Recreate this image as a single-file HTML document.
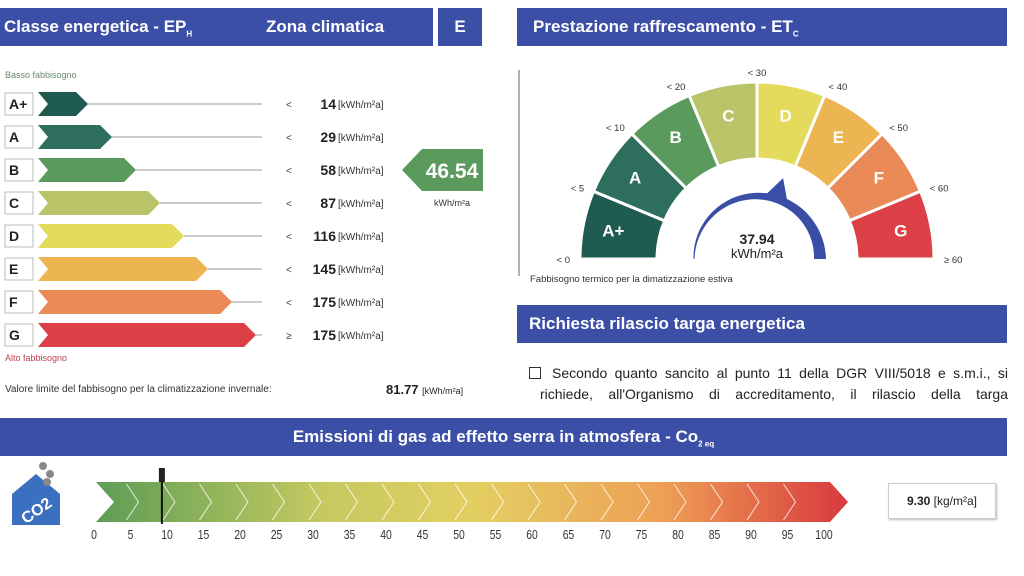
<!DOCTYPE html>
<html><head><meta charset="utf-8"><style>
body{margin:0;width:1024px;height:576px;background:#fff;overflow:hidden;font-family:"Liberation Sans",sans-serif;position:relative}
.hdr{position:absolute;background:#3b4fa6;color:#fff;font-weight:bold;font-size:17px;box-sizing:border-box;line-height:38px;white-space:nowrap}
.abs{position:absolute;white-space:nowrap}
</style></head><body>
<div class="hdr" style="left:0;top:8px;width:433px;height:38px;padding-left:4px">Classe energetica - EP<sub style="font-size:8px">H</sub><span style="position:absolute;left:266px">Zona climatica</span></div>
<div class="hdr" style="left:438px;top:8px;width:44px;height:38px;text-align:center">E</div>
<div class="hdr" style="left:517px;top:8px;width:490px;height:38px;padding-left:16px">Prestazione raffrescamento - ET<sub style="font-size:8px">C</sub></div>
<div class="hdr" style="left:517px;top:305px;width:490px;height:38px;padding-left:12px">Richiesta rilascio targa energetica</div>
<div class="hdr" style="left:0;top:418px;width:1007px;height:38px;text-align:center">Emissioni di gas ad effetto serra in atmosfera - Co<sub style="font-size:8px">2 eq</sub></div>

<div class="abs" style="left:5px;top:70px;font-size:9px;color:#6a8a70">Basso fabbisogno</div>
<div class="abs" style="left:5px;top:353px;font-size:9px;color:#c04050">Alto fabbisogno</div>
<div class="abs" style="left:5px;top:384px;font-size:10px;color:#333">Valore limite del fabbisogno per la climatizzazione invernale:</div>
<div class="abs" style="left:386px;top:382px;font-size:13px;font-weight:bold;color:#222">81.77 <span style="font-size:9px;font-weight:normal">[kWh/m²a]</span></div>
<div class="abs" style="left:530px;top:274px;font-size:9.5px;color:#333">Fabbisogno termico per la dimatizzazione estiva</div>
<span style="position:absolute;left:529px;top:367px;width:10px;height:10px;border:1px solid #333"></span>
<div class="abs" style="left:540px;top:363px;width:468px;font-size:14px;color:#222;line-height:21px;white-space:normal;text-align:justify;text-align-last:justify;text-indent:12px">Secondo quanto sancito al punto 11 della DGR VIII/5018 e s.m.i., si richiede, all'Organismo di accreditamento, il rilascio della targa</div>
<div class="abs" style="left:888px;top:483px;width:106px;height:34px;border:1px solid #ccc;box-shadow:1px 1px 2px #bbb;font-size:12px;line-height:34px;text-align:center;color:#222"><b>9.30</b> [kg/m²a]</div>

<svg id="svg" width="1024" height="576" style="position:absolute;left:0;top:0"></svg>
<script>
const classes=["A+","A","B","C","D","E","F","G"];
const thresholds=[14,29,58,87,116,145,175,175];
const signs=["<","<","<","<","<","<","<","≥"];
const epValue=46.54;
const epClassIndex=2;
const gaugeClasses=["A+","A","B","C","D","E","F","G"];
const gaugeBounds=[0,5,10,20,30,40,50,60];
const gaugeBoundLabels=["< 0","< 5","< 10","< 20","< 30","< 40","< 50","< 60","≥ 60"];
const etValue=37.94;
const co2Ticks=[0,5,10,15,20,25,30,35,40,45,50,55,60,65,70,75,80,85,90,95,100];
const co2Value=9.30;

const NS="http://www.w3.org/2000/svg";
const svg=document.getElementById('svg');
function mk(t,a,p){const e=document.createElementNS(NS,t);for(const k in a)e.setAttribute(k,a[k]);(p||svg).appendChild(e);return e;}
const colors=["#1f5b50","#2d6f5c","#5b9a5d","#b8c467","#e4da5c","#edb552","#e98a57","#dc3f46"];

const rowY=i=>104+i*33;
const barEnd=i=>88+i*24;
classes.forEach((c,i)=>{
  const y=rowY(i),h=24,x0=38,x1=barEnd(i);
  const lb=mk('rect',{x:5,y:y-11,width:28,height:22,fill:'#fff',stroke:'#bbb'});
  
  const t=mk('text',{x:9,y:y+5,'font-size':14,'font-weight':'bold',fill:'#222'});t.textContent=c;
  
  mk('line',{x1:x1,y1:y,x2:262,y2:y,stroke:'#999','stroke-width':1});
  const p=mk('path',{d:`M${x0} ${y-h/2}L${x1-12} ${y-h/2}L${x1} ${y}L${x1-12} ${y+h/2}L${x0} ${y+h/2}L${x0+10} ${y}Z`,fill:colors[i]});
  
  const s=mk('text',{x:286,y:y+4,'font-size':10,fill:'#444'});s.textContent=signs[i];
  const v=mk('text',{x:336,y:y+5,'font-size':14,'font-weight':'bold','text-anchor':'end',fill:'#222'});v.textContent=thresholds[i];
  
  const u=mk('text',{x:338,y:y+4,'font-size':10,fill:'#333'});u.textContent='[kWh/m²a]';
});
{const y=rowY(epClassIndex);
 const p=mk('path',{d:`M402 ${y}L422 ${y-21}L483 ${y-21}L483 ${y+21}L422 ${y+21}Z`,fill:colors[epClassIndex]});
 
 const t=mk('text',{x:452,y:y+8,'font-size':21,'font-weight':'bold',fill:'#fff','text-anchor':'middle'});t.textContent=epValue.toFixed(2);
 const u=mk('text',{x:452,y:y+36,'font-size':9,fill:'#333','text-anchor':'middle'});u.textContent='kWh/m²a';}

mk('line',{x1:519,y1:70,x2:519,y2:276,stroke:'#999','stroke-width':1.5});
const cx=757,cy=259,R=177,r=100;
const segAng=i=>Math.PI-i*Math.PI/8;
const pt=(a,rad)=>[cx+rad*Math.cos(a),cy-rad*Math.sin(a)];
gaugeClasses.forEach((c,i)=>{
  const a0=segAng(i),a1=segAng(i+1);
  const [x0,y0]=pt(a0,R),[x1,y1]=pt(a1,R),[x2,y2]=pt(a1,r),[x3,y3]=pt(a0,r);
  const p=mk('path',{d:`M${x0} ${y0}A${R} ${R} 0 0 1 ${x1} ${y1}L${x2} ${y2}A${r} ${r} 0 0 0 ${x3} ${y3}Z`,fill:colors[i],stroke:'#fff','stroke-width':3});
  
  const [lx,ly]=pt((a0+a1)/2,(R+r)/2+8);
  const t=mk('text',{x:lx,y:ly+6,'font-size':17,'font-weight':'bold',fill:'#fff','text-anchor':'middle'});t.textContent=c;
});
gaugeBoundLabels.forEach((l,i)=>{
  const a=segAng(i);const [lx,ly]=pt(a,R+10);
  const t=mk('text',{x:lx,y:ly+4,'font-size':9.5,fill:'#333','text-anchor':Math.abs(Math.cos(a))<0.2?'middle':(Math.cos(a)<0?'end':'start')});t.textContent=l;
  
});
function valAng(v){
  for(let i=0;i<gaugeBounds.length-1;i++){if(v<gaugeBounds[i+1]){return segAng(i)-(v-gaugeBounds[i])/(gaugeBounds[i+1]-gaugeBounds[i])*Math.PI/8;}}
  return segAng(8)+0.05;
}
{const va=valAng(etValue),rn=63;
 const N=40;const outer=[],inner=[];
 for(let k=0;k<=N;k++){const a=Math.PI-k*Math.PI/N;const w=1+11*k/N;outer.push(pt(a,rn+w/2));inner.push(pt(a,rn-w/2));}
 const d='M'+outer.map(p=>p.join(' ')).join('L')+'L'+inner.reverse().map(p=>p.join(' ')).join('L')+'Z';
 const arc=mk('path',{d:d,fill:'#3a4ea6'});
 const [tx,ty]=pt(va,rn+22),[bx1,by1]=pt(va+0.2,rn),[bx2,by2]=pt(va-0.2,rn);
 const nd=mk('path',{d:`M${tx} ${ty}L${bx2} ${by2}L${bx1} ${by1}Z`,fill:'#3a4ea6'});
 const t=mk('text',{x:cx,y:244,'font-size':14,'font-weight':'bold',fill:'#222','text-anchor':'middle'});t.textContent=etValue.toFixed(2);
 
 const u=mk('text',{x:cx,y:258,'font-size':13,fill:'#222','text-anchor':'middle'});u.textContent='kWh/m²a';}

const cxs=v=>94+v*7.3;
const defs=mk('defs',{});
const g=mk('linearGradient',{id:'cg',x1:0,x2:1,y1:0,y2:0},defs);
[["0","#5c9d55"],["0.3","#c4c960"],["0.5","#e3cf62"],["0.75","#eea055"],["1","#d8393e"]].forEach(s=>mk('stop',{offset:s[0],'stop-color':s[1]},g));
const bar=mk('path',{d:`M96 482L830 482L848 502L830 522L96 522L114 502Z`,fill:'url(#cg)'});

co2Ticks.forEach((v,i)=>{
  if(i>0&&i<co2Ticks.length-1){const x=cxs(v)-4;mk('path',{d:`M${x} 484L${x+12} 502L${x} 520`,fill:'none',stroke:'#fff','stroke-width':1,opacity:0.8});}
  const t=mk('text',{x:cxs(v),y:539,'font-size':13,fill:'#333','text-anchor':'middle',transform:`translate(${cxs(v)} 0) scale(0.8 1) translate(${-cxs(v)} 0)`});t.textContent=v;
  
});
{const x=cxs(co2Value);
 const m=mk('line',{x1:x,y1:470,x2:x,y2:524,stroke:'#111','stroke-width':2});
 mk('rect',{x:x-3,y:468,width:6,height:14,fill:'#222'});}
const ic=mk('g',{});
mk('path',{d:'M12 494L36 474L60 494L60 525L12 525Z',fill:'#3b6fc0'},ic);
[[43,466,4],[50,474,4],[47,482,4]].forEach(c=>mk('circle',{cx:c[0],cy:c[1],r:c[2],fill:'#888'},ic));
const ct=mk('text',{x:36,y:516,'font-size':16,'font-weight':'bold',fill:'#fff','text-anchor':'middle',transform:'rotate(-35 36 510)'},ic);ct.textContent='CO2';
</script>
</body></html>
